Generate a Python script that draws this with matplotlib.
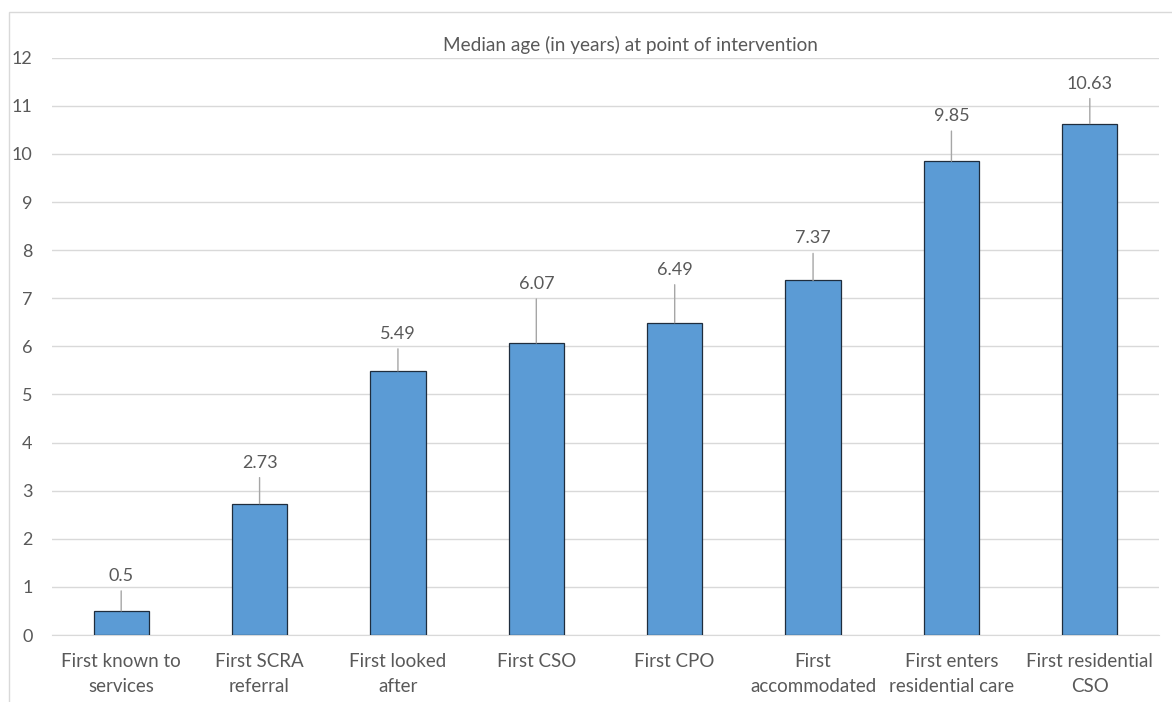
import matplotlib.pyplot as plt
from matplotlib.patches import Rectangle

categories = ['First known to\nservices', 'First SCRA\nreferral', 'First looked\nafter',
              'First CSO', 'First CPO', 'First\naccommodated',
              'First enters\nresidential care', 'First residential\nCSO']
median_age = [0.5, 2.73, 5.49, 6.07, 6.49, 7.37, 9.85, 10.63]
value_labels = ['0.5', '2.73', '5.49', '6.07', '6.49', '7.37', '9.85', '10.63']
y_ticks = list(range(0, 13))

# label height above bar top, in pixels (as placed in the original)
LABEL_OFFSET_PX = [35, 41, 37, 59, 53, 42, 45, 40]

W, H, DPI = 1172, 702, 100
TEXT = '#595959'
GRID = '#D9D9D9'

plt.rcParams['font.family'] = ['Lato', 'DejaVu Sans']

fig = plt.figure(figsize=(W / DPI, H / DPI), dpi=DPI)
# outer chart border (cut off on the right and bottom)
fig.patches.append(Rectangle((9 / W, -0.1), 1.2, (H - 12) / H + 0.1,
                             transform=fig.transFigure, fill=False,
                             edgecolor=GRID, linewidth=1))

ax = fig.add_axes([52 / W, (H - 635) / H, (1159 - 52) / W, (635 - 57.7) / H])
x = list(range(len(categories)))
ax.bar(x, median_age, width=0.4, color='#5B9BD5', edgecolor='#1F2D3D',
       linewidth=0.9, zorder=3)

for xi, v, lab, off in zip(x, median_age, value_labels, LABEL_OFFSET_PX):
    ax.annotate(lab, xy=(xi, v), xytext=(0, off * 72 / DPI),
                textcoords='offset points', ha='center', va='center',
                fontsize=13, color=TEXT,
                arrowprops=dict(arrowstyle='-', color='#A6A6A6', lw=1,
                                shrinkA=3, shrinkB=0))

ax.set_xlim(-0.5, len(categories) - 0.5)
ax.set_ylim(0, 12)
ax.set_yticks(y_ticks)
ax.set_xticks(x)
ax.set_xticklabels(categories, fontsize=13.5, color=TEXT, linespacing=1.55)
ax.tick_params(axis='y', length=0, pad=14, labelsize=13, labelcolor=TEXT)
ax.tick_params(axis='x', length=0, pad=13)
ax.grid(axis='y', color=GRID, linewidth=1, zorder=0)
for s in ['top', 'right', 'left']:
    ax.spines[s].set_visible(False)
ax.spines['bottom'].set_color(GRID)
ax.spines['bottom'].set_zorder(1)

fig.text(630 / W, (H - 45) / H, 'Median age (in years) at point of intervention',
         ha='center', va='center', fontsize=13.7, color=TEXT)

fig.savefig('out.png', dpi=DPI)
